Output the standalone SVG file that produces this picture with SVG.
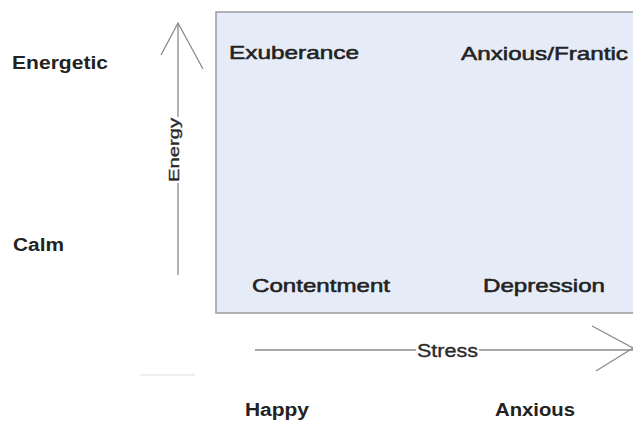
<svg xmlns="http://www.w3.org/2000/svg" width="633" height="422" viewBox="0 0 633 422">
  <style>
    .lbl { font-family: "Liberation Sans", Arial, sans-serif; fill: #222; }
    .b { font-weight: bold; font-size: 18px; }
    .q { font-size: 19px; stroke: #222; stroke-width: 0.55; }
    .axis { stroke: #8a8a8a; stroke-width: 1.3; fill: none; }
    .axt { font-family: "Liberation Sans", Arial, sans-serif; fill: #2a2a2a; font-size: 15px; stroke: #2a2a2a; stroke-width: 0.35; }
  </style>
  <rect width="633" height="422" fill="#ffffff"/>
  <g id="quadrant">
    <rect x="216" y="12" width="420" height="301" fill="#e6ecf7" stroke="#9a9a9a" stroke-width="1.5"/>
  </g>
  <g id="connectors">
    <g id="energy-axis">
      <line class="axis" x1="178" y1="23" x2="178" y2="275"/>
      <polyline class="axis" points="161,55 178,23 203,69"/>
    </g>
    <g id="stress-axis">
      <line class="axis" x1="255" y1="350" x2="633" y2="350"/>
      <polyline class="axis" points="592,326 633,348 596,371"/>
    </g>
    <line x1="140" y1="375" x2="195" y2="375" stroke="#eeeeee" stroke-width="2"/>
  </g>
  <g id="energy-label">
    <rect x="167" y="117" width="14" height="66" fill="#ffffff"/>
    <text class="axt" transform="translate(179,182) rotate(-90)" textLength="64" lengthAdjust="spacingAndGlyphs">Energy</text>
  </g>
  <g id="stress-label">
    <rect x="416" y="341" width="63" height="17" fill="#ffffff"/>
    <text class="axt" x="417" y="357" textLength="61" lengthAdjust="spacingAndGlyphs" style="font-size:18px">Stress</text>
  </g>
  <g id="exuberance"><text class="lbl q" x="229" y="59" textLength="130" lengthAdjust="spacingAndGlyphs">Exuberance</text></g>
  <g id="anxious-frantic"><text class="lbl q" x="461" y="60" textLength="167" lengthAdjust="spacingAndGlyphs">Anxious/Frantic</text></g>
  <g id="contentment"><text class="lbl q" x="252" y="292" textLength="138" lengthAdjust="spacingAndGlyphs">Contentment</text></g>
  <g id="depression"><text class="lbl q" x="483" y="292" textLength="122" lengthAdjust="spacingAndGlyphs">Depression</text></g>
  <g id="energetic"><text class="lbl b" x="12" y="69" textLength="96" lengthAdjust="spacingAndGlyphs">Energetic</text></g>
  <g id="calm"><text class="lbl b" x="13" y="251" textLength="51" lengthAdjust="spacingAndGlyphs">Calm</text></g>
  <g id="happy"><text class="lbl b" x="245" y="416" textLength="64" lengthAdjust="spacingAndGlyphs">Happy</text></g>
  <g id="anxious"><text class="lbl b" x="495" y="416" textLength="80" lengthAdjust="spacingAndGlyphs">Anxious</text></g>
</svg>
